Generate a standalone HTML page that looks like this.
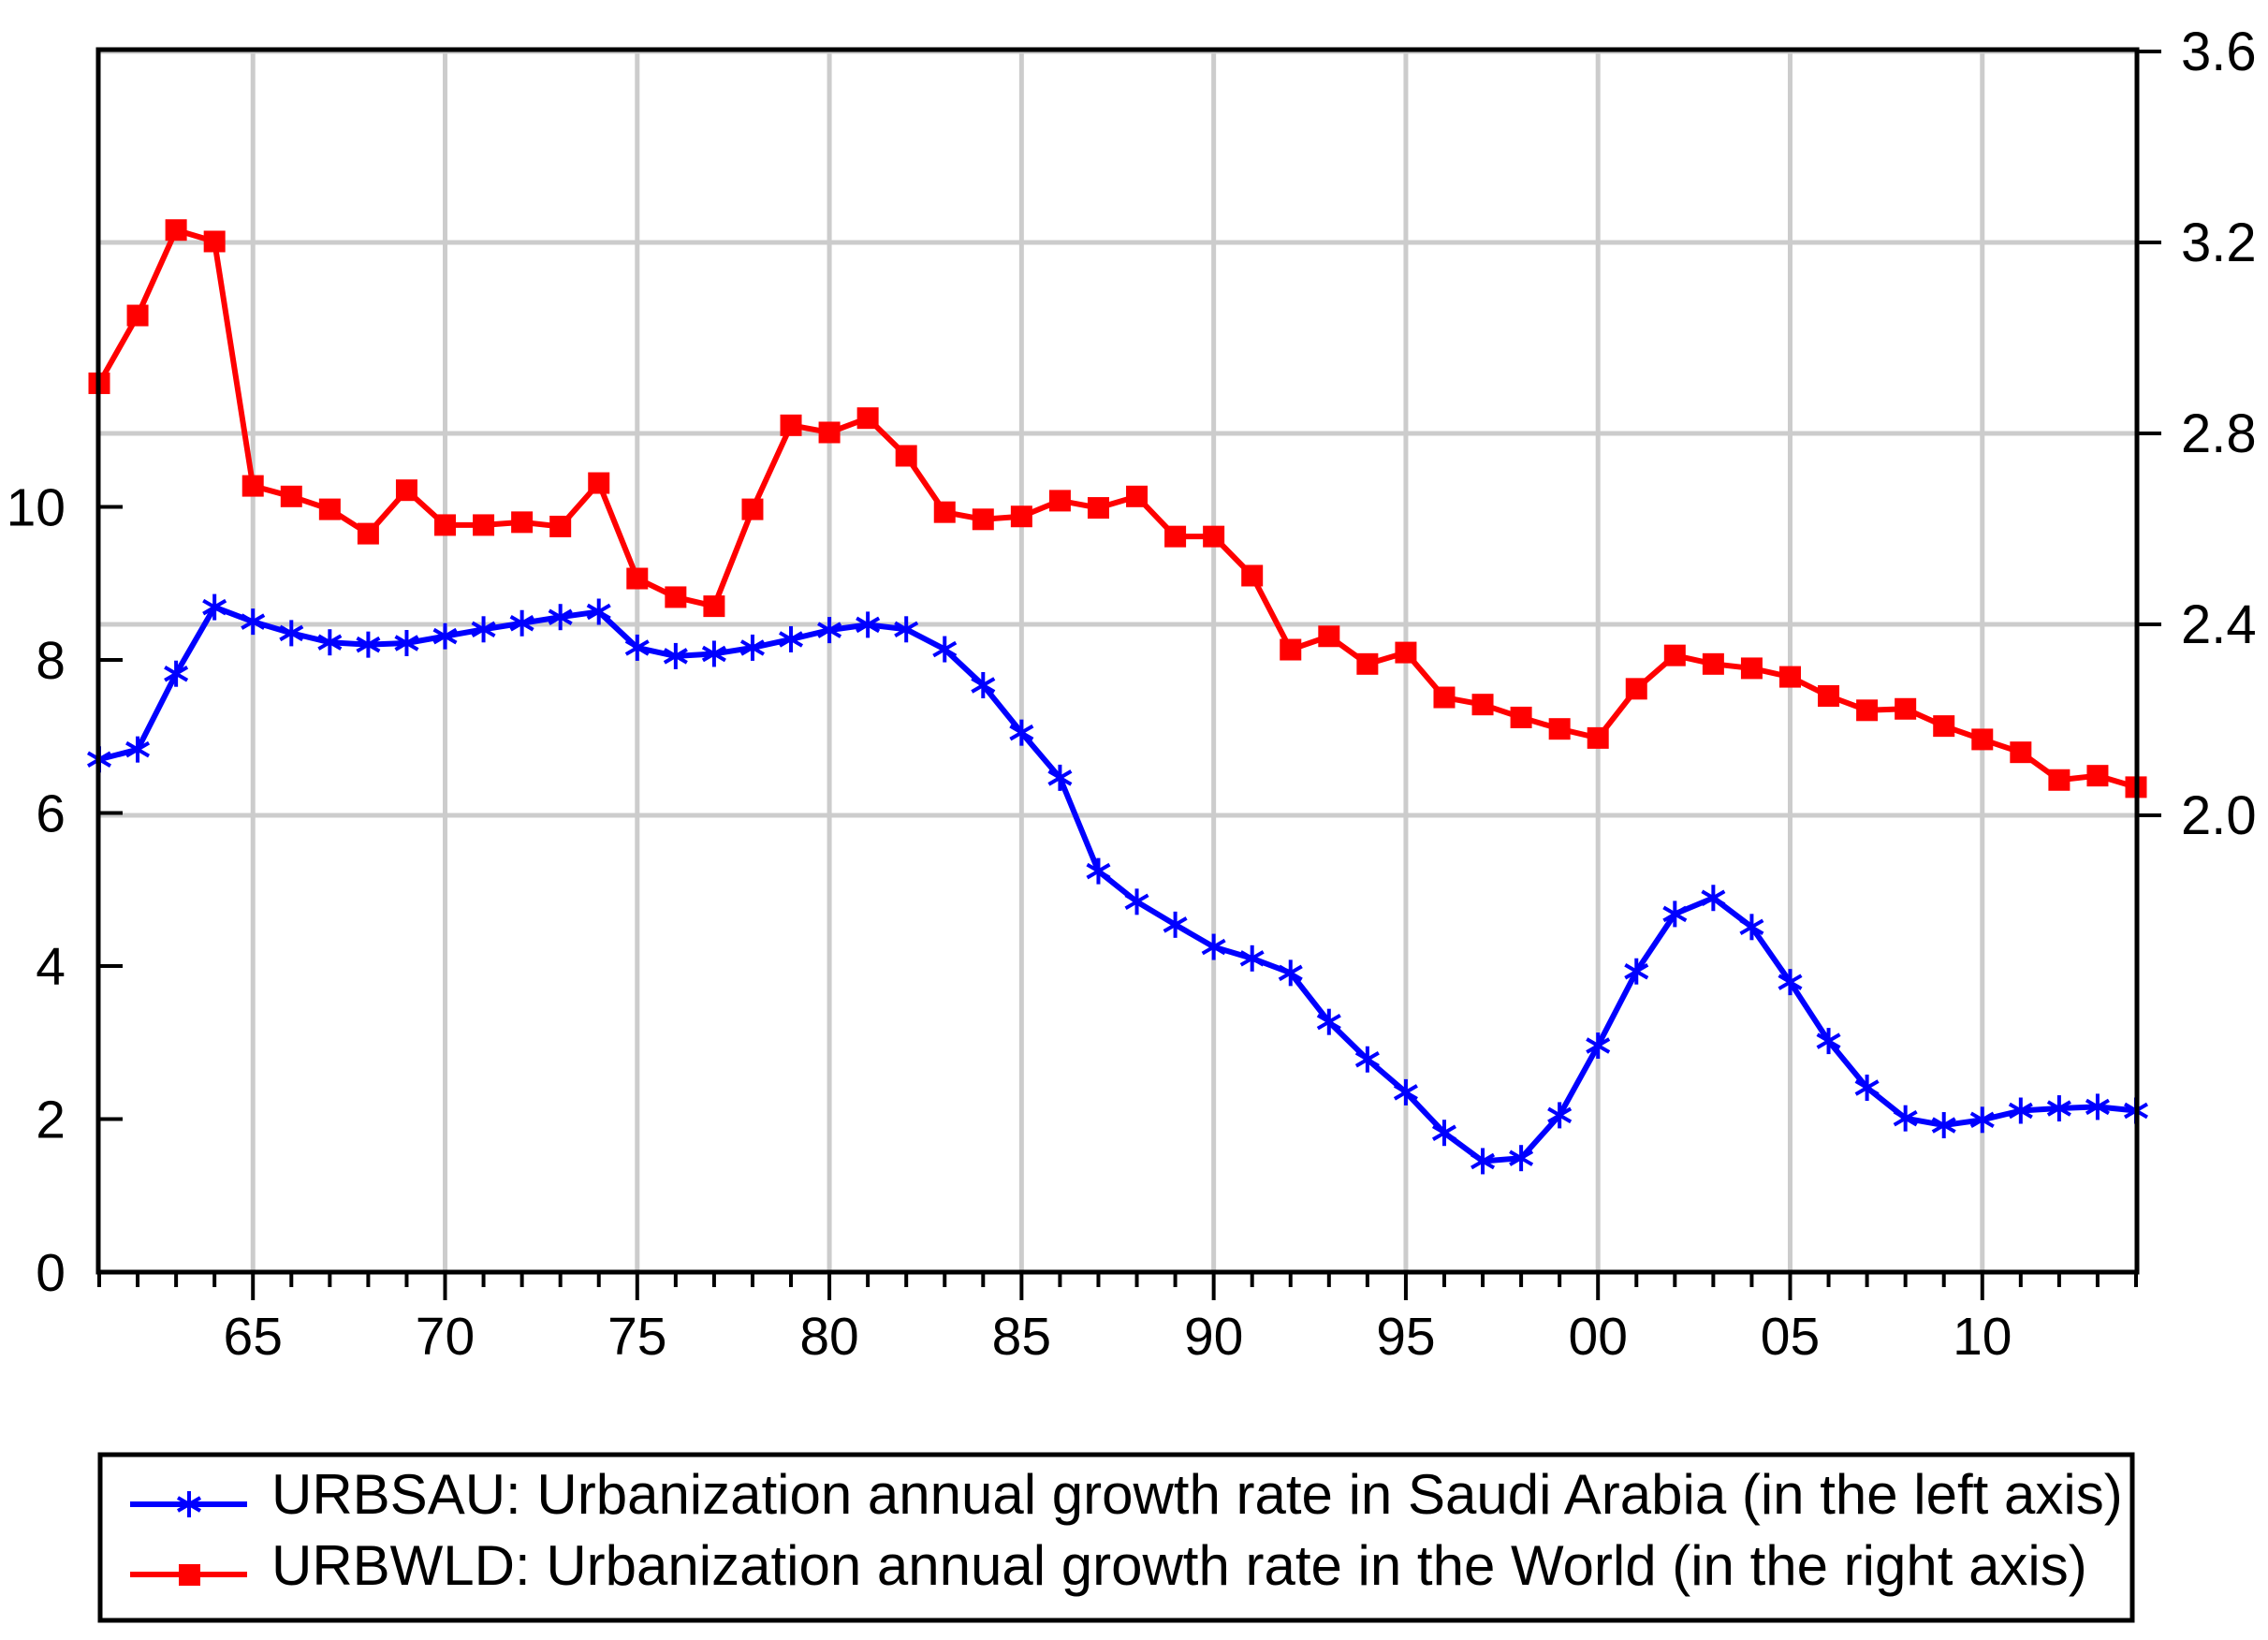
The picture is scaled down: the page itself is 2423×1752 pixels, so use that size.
<!DOCTYPE html>
<html><head><meta charset="utf-8"><style>
html,body{margin:0;padding:0;background:#fff;}
svg{display:block;font-family:"Liberation Sans",Arial,sans-serif;}
</style></head><body>
<svg id="chart" width="2423" height="1752" viewBox="0 0 2423 1752" xmlns="http://www.w3.org/2000/svg">
<g id="grid"></g>
<g id="series"></g>
<rect x="105" y="53" width="2178" height="1306" fill="none" stroke="#000" stroke-width="5"/>
<g id="axes"></g>
<g>
<rect x="107" y="1554" width="2171" height="177" fill="none" stroke="#000" stroke-width="5"/>
<g>
<line x1="139" y1="1607" x2="264" y2="1607" stroke="#0000ff" stroke-width="6"/>
<g stroke="#0000ff" stroke-width="4"><line x1="202" y1="1593" x2="202" y2="1621"/><line x1="190" y1="1600" x2="214" y2="1614"/><line x1="190" y1="1614" x2="214" y2="1600"/></g>
<text x="290" y="1617" font-size="60" fill="#000">URBSAU: Urbanization annual growth rate in Saudi Arabia (in the left axis)</text>
</g>
<g>
<line x1="139" y1="1682" x2="264" y2="1682" stroke="#ff0000" stroke-width="6"/>
<rect x="191" y="1671" width="23" height="23" fill="#ff0000"/>
<text x="290" y="1693" font-size="60" fill="#000">URBWLD: Urbanization annual growth rate in the World (in the right axis)</text>
</g>
</g>
</svg>
<script>
const years = [1961,1962,1963,1964,1965,1966,1967,1968,1969,1970,1971,1972,1973,1974,1975,1976,1977,1978,1979,1980,1981,1982,1983,1984,1985,1986,1987,1988,1989,1990,1991,1992,1993,1994,1995,1996,1997,1998,1999,2000,2001,2002,2003,2004,2005,2006,2007,2008,2009,2010,2011,2012,2013,2014];
const urbsau = [6.70,6.83,7.82,8.69,8.50,8.35,8.23,8.20,8.22,8.31,8.40,8.48,8.56,8.63,8.16,8.05,8.08,8.16,8.27,8.39,8.46,8.40,8.14,7.67,7.05,6.46,5.24,4.84,4.54,4.25,4.10,3.91,3.27,2.78,2.35,1.82,1.45,1.49,2.05,2.96,3.93,4.68,4.89,4.51,3.79,3.02,2.41,2.01,1.92,1.99,2.11,2.14,2.16,2.11];
const urbwld = [2.905,3.047,3.226,3.202,2.690,2.668,2.641,2.590,2.681,2.608,2.608,2.614,2.605,2.696,2.496,2.457,2.438,2.641,2.817,2.802,2.832,2.753,2.635,2.620,2.626,2.659,2.644,2.668,2.584,2.584,2.502,2.347,2.375,2.317,2.341,2.247,2.232,2.205,2.181,2.162,2.265,2.335,2.317,2.308,2.290,2.250,2.220,2.223,2.187,2.159,2.132,2.074,2.083,2.059];
const leftTicks = [0,2,4,6,8,10];
const rightTicks = [2.0,2.4,2.8,3.2,3.6];
const xLabelYears = [1965,1970,1975,1980,1985,1990,1995,2000,2005,2010];

const NS='http://www.w3.org/2000/svg';
const X0=105, X1=2283, Y0=53, Y1=1359;
const xS = y => 106 + (y-1961)*(2282-106)/(2014-1961);
const yL = v => 1359 - v*81.75;
const yR = v => 55 + (3.6-v)*510;
function mk(tag, attrs, parent){const e=document.createElementNS(NS,tag);for(const k in attrs)e.setAttribute(k,attrs[k]);parent.appendChild(e);return e;}
const grid=document.getElementById('grid'), axes=document.getElementById('axes'), ser=document.getElementById('series');

xLabelYears.forEach(y=>{
  const l=mk('line',{x1:xS(y),x2:xS(y),y1:Y0,y2:Y1,stroke:'#cccccc','stroke-width':5},grid);
  
  
});
rightTicks.forEach(v=>{
  const l=mk('line',{x1:X0,x2:X1,y1:yR(v),y2:yR(v),stroke:'#cccccc','stroke-width':5},grid);
  
  
});
years.forEach(y=>{
  const major = xLabelYears.indexOf(y)>=0;
  const t=mk('line',{x1:xS(y),x2:xS(y),y1:Y1,y2:Y1+(major?30:16),stroke:'#000','stroke-width':4},axes);
  
  
});
xLabelYears.forEach(y=>{
  const t=mk('text',{x:xS(y),y:1447,'font-size':57,'text-anchor':'middle',fill:'#000'},axes);
  t.textContent=String(y%100).padStart(2,'0');
  
  
});
leftTicks.forEach(v=>{
  const l=mk('line',{x1:X0,x2:X0+26,y1:yL(v),y2:yL(v),stroke:'#000','stroke-width':4},axes);
  
  
  const t=mk('text',{x:70,y:yL(v)+20,'font-size':57,'text-anchor':'end',fill:'#000'},axes);
  t.textContent=String(v);
  
  
});
rightTicks.forEach(v=>{
  const l=mk('line',{x1:X1,x2:X1+26,y1:yR(v),y2:yR(v),stroke:'#000','stroke-width':4},axes);
  
  
  const t=mk('text',{x:2330,y:yR(v)+20,'font-size':58,fill:'#000'},axes);
  t.textContent=v.toFixed(1);
  
  
});

const redG=mk('g',{},ser);


const rp=mk('polyline',{points:years.map((y,i)=>xS(y)+','+yR(urbwld[i])).join(' '),fill:'none',stroke:'#ff0000','stroke-width':6,'stroke-linejoin':'round'},redG);


years.forEach((y,i)=>{
  const r=mk('rect',{x:xS(y)-11.5,y:yR(urbwld[i])-11.5,width:23,height:23,fill:'#ff0000'},redG);
  
  
});
const blueG=mk('g',{},ser);


const bp=mk('polyline',{points:years.map((y,i)=>xS(y)+','+yL(urbsau[i])).join(' '),fill:'none',stroke:'#0000ff','stroke-width':6,'stroke-linejoin':'round'},blueG);


years.forEach((y,i)=>{
  const cx=xS(y), cy=yL(urbsau[i]);
  const g=mk('g',{stroke:'#0000ff','stroke-width':4},blueG);
  
  
  mk('line',{x1:cx,x2:cx,y1:cy-14,y2:cy+14},g);
  mk('line',{x1:cx-12,x2:cx+12,y1:cy-7,y2:cy+7},g);
  mk('line',{x1:cx-12,x2:cx+12,y1:cy+7,y2:cy-7},g);
});
</script>
</body></html>
